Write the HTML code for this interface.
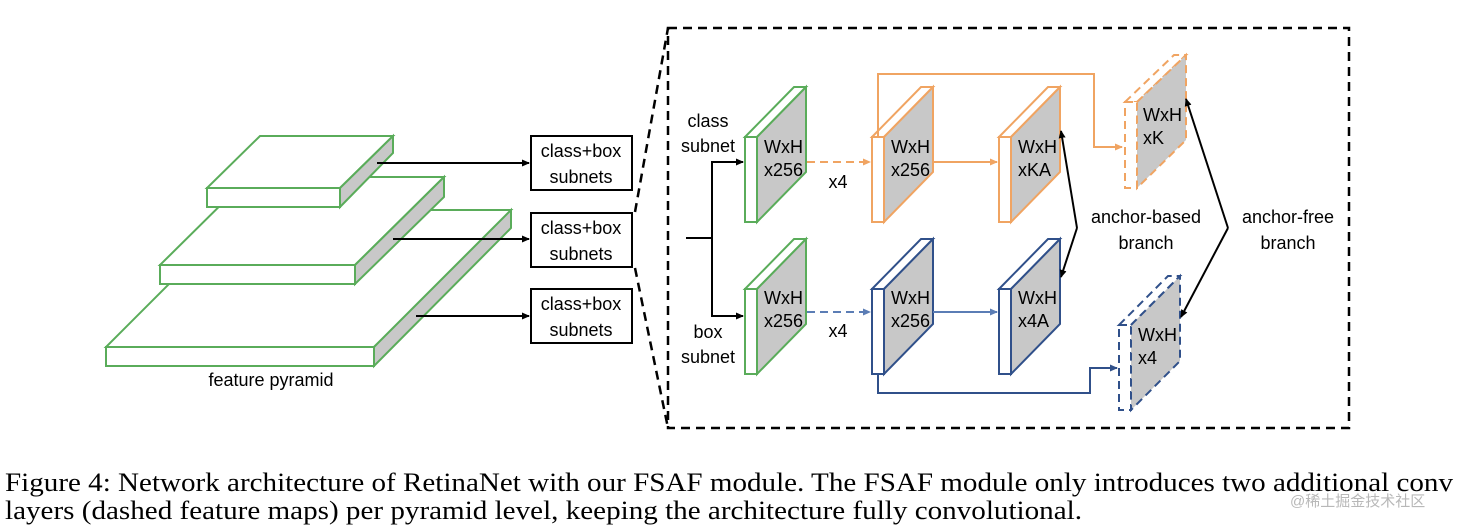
<!DOCTYPE html>
<html><head><meta charset="utf-8"><style>
html,body{margin:0;padding:0;background:#fff;}
svg{display:block;}
.t{font-family:"Liberation Sans",sans-serif;font-size:18px;fill:#000;}
.c{font-family:"Liberation Serif",serif;font-size:26px;fill:#000;}
</style></head><body>
<svg width="1460" height="528" viewBox="0 0 1460 528" xmlns="http://www.w3.org/2000/svg">
<defs>
<marker id="ab" markerWidth="8" markerHeight="8" refX="7" refY="4" orient="auto" markerUnits="userSpaceOnUse"><path d="M0,0.5 L8,4 L0,7.5 z" fill="#000"/></marker>
<marker id="ao" markerWidth="8" markerHeight="8" refX="7" refY="4" orient="auto" markerUnits="userSpaceOnUse"><path d="M0,0.5 L8,4 L0,7.5 z" fill="#f0a462"/></marker>
<marker id="abl" markerWidth="8" markerHeight="8" refX="7" refY="4" orient="auto" markerUnits="userSpaceOnUse"><path d="M0,0.5 L8,4 L0,7.5 z" fill="#5b7db5"/></marker>
<marker id="abd" markerWidth="8" markerHeight="8" refX="7" refY="4" orient="auto" markerUnits="userSpaceOnUse"><path d="M0,0.5 L8,4 L0,7.5 z" fill="#30508a"/></marker>
</defs>

<g stroke="#5aac5a" stroke-width="2" stroke-linejoin="miter">
<polygon points="243,210 511,210 374,347 106,347" fill="#fff"/>
<rect x="106" y="347" width="268" height="19" fill="#fff"/>
<polygon points="374,347 511,210 511,228 374,366" fill="#c8c8c8"/>
<polygon points="249,177 444,177 355,265 160,265" fill="#fff"/>
<rect x="160" y="265" width="195" height="19" fill="#fff"/>
<polygon points="355,265 444,177 444,197 355,284" fill="#c8c8c8"/>
<polygon points="260,136 393,136 340,188 207,188" fill="#fff"/>
<rect x="207" y="188" width="133" height="19" fill="#fff"/>
<polygon points="340,188 393,136 393,153 340,207" fill="#c8c8c8"/>
</g>
<text class="t" x="271" y="386" text-anchor="middle">feature pyramid</text>

<g stroke="#000" stroke-width="2" fill="none">
<line x1="377" y1="163" x2="529" y2="163" marker-end="url(#ab)"/>
<line x1="393" y1="239" x2="529" y2="239" marker-end="url(#ab)"/>
<line x1="416" y1="316" x2="529" y2="316" marker-end="url(#ab)"/>
<rect x="531" y="136" width="101" height="54" fill="#fff"/>
<rect x="531" y="213" width="101" height="54" fill="#fff"/>
<rect x="531" y="289" width="101" height="54" fill="#fff"/>
</g>
<g class="t" text-anchor="middle">
<text x="581" y="157">class+box</text><text x="581" y="183">subnets</text>
<text x="581" y="234">class+box</text><text x="581" y="260">subnets</text>
<text x="581" y="310">class+box</text><text x="581" y="336">subnets</text>
</g>

<g stroke="#000" stroke-width="2.5" fill="none" stroke-dasharray="9,6">
<rect x="668" y="28" width="681" height="400"/>
<line x1="635" y1="212" x2="668" y2="28"/>
<line x1="635" y1="268" x2="668" y2="428"/>
</g>

<g stroke="#000" stroke-width="2" fill="none">
<line x1="686" y1="238" x2="712" y2="238"/>
<polyline points="743,162 712,162 712,316 743,316"/>
<line x1="712" y1="162" x2="743" y2="162" marker-end="url(#ab)"/>
<line x1="712" y1="316" x2="743" y2="316" marker-end="url(#ab)"/>
</g>
<g class="t" text-anchor="middle">
<text x="708" y="127">class</text><text x="708" y="152">subnet</text>
<text x="708" y="338">box</text><text x="708" y="363">subnet</text>
<text x="838" y="188">x4</text><text x="838" y="337">x4</text>
</g>

<g stroke-width="2" stroke-linejoin="miter">
<g stroke="#5aac5a">
<polygon points="745,137 794,87 806,87 757,137" fill="#fff"/><rect x="745" y="137" width="12" height="85" fill="#fff"/><polygon points="757,137 806,87 806,172 757,222" fill="#c8c8c8"/>
<polygon points="745,289 794,239 806,239 757,289" fill="#fff"/><rect x="745" y="289" width="12" height="85" fill="#fff"/><polygon points="757,289 806,239 806,324 757,374" fill="#c8c8c8"/>
</g>
<g stroke="#f0a462">
<polygon points="872,137 921,87 933,87 884,137" fill="#fff"/><rect x="872" y="137" width="12" height="85" fill="#fff"/><polygon points="884,137 933,87 933,172 884,222" fill="#c8c8c8"/>
<polygon points="999,137 1048,87 1060,87 1011,137" fill="#fff"/><rect x="999" y="137" width="12" height="85" fill="#fff"/><polygon points="1011,137 1060,87 1060,172 1011,222" fill="#c8c8c8"/>
</g>
<g stroke="#30508a">
<polygon points="872,289 921,239 933,239 884,289" fill="#fff"/><rect x="872" y="289" width="12" height="85" fill="#fff"/><polygon points="884,289 933,239 933,324 884,374" fill="#c8c8c8"/>
<polygon points="999,289 1048,239 1060,239 1011,289" fill="#fff"/><rect x="999" y="289" width="12" height="85" fill="#fff"/><polygon points="1011,289 1060,239 1060,324 1011,374" fill="#c8c8c8"/>
</g>
<g stroke="#f0a462" stroke-dasharray="8,5">
<polygon points="1125,102 1174,55 1186,55 1137,102" fill="#fff"/><rect x="1125" y="102" width="12" height="86" fill="#fff"/><polygon points="1137,102 1186,55 1186,140 1137,188" fill="#c8c8c8"/>
</g>
<g stroke="#30508a" stroke-dasharray="8,5">
<polygon points="1119,325 1168,276 1180,276 1131,325" fill="#fff"/><rect x="1119" y="325" width="12" height="85" fill="#fff"/><polygon points="1131,325 1180,276 1180,361 1131,410" fill="#c8c8c8"/>
</g>
</g>
<g class="t">
<text x="764" y="153">WxH</text><text x="764" y="176">x256</text>
<text x="764" y="304">WxH</text><text x="764" y="327">x256</text>
<text x="891" y="153">WxH</text><text x="891" y="176">x256</text>
<text x="891" y="304">WxH</text><text x="891" y="327">x256</text>
<text x="1018" y="153">WxH</text><text x="1018" y="176">xKA</text>
<text x="1018" y="304">WxH</text><text x="1018" y="327">x4A</text>
<text x="1143" y="121">WxH</text><text x="1143" y="144">xK</text>
<text x="1138" y="341">WxH</text><text x="1138" y="364">x4</text>
</g>

<g fill="none" stroke-width="2">
<line x1="807" y1="162" x2="870" y2="162" stroke="#f0a462" stroke-dasharray="8,5" marker-end="url(#ao)"/>
<line x1="933" y1="162" x2="997" y2="162" stroke="#f0a462" marker-end="url(#ao)"/>
<polyline points="878,137 878,74 1094,74 1094,147 1122,147" stroke="#f0a462" marker-end="url(#ao)"/>
<line x1="807" y1="312" x2="870" y2="312" stroke="#5b7db5" stroke-dasharray="8,5" marker-end="url(#abl)"/>
<line x1="933" y1="312" x2="997" y2="312" stroke="#5b7db5" marker-end="url(#abl)"/>
<polyline points="878,374 878,393 1090,393 1090,368 1117,368" stroke="#30508a" marker-end="url(#abd)"/>
<g stroke="#000">
<polyline points="1077,228 1061,131" marker-end="url(#ab)"/>
<polyline points="1077,228 1061,277" marker-end="url(#ab)"/>
<polyline points="1228,228 1186,99" marker-end="url(#ab)"/>
<polyline points="1228,228 1181,317" marker-end="url(#ab)"/>
</g>
</g>
<g class="t" text-anchor="middle">
<text x="1146" y="223">anchor-based</text><text x="1146" y="249">branch</text>
<text x="1288" y="223">anchor-free</text><text x="1288" y="249">branch</text>
</g>

<text class="c" x="5" y="491" textLength="1448" lengthAdjust="spacingAndGlyphs">Figure 4: Network architecture of RetinaNet with our FSAF module. The FSAF module only introduces two additional conv</text>
<text class="c" x="5" y="519" textLength="1077" lengthAdjust="spacingAndGlyphs">layers (dashed feature maps) per pyramid level, keeping the architecture fully convolutional.</text>
<text x="1290" y="506" font-family="'Liberation Sans','Noto Sans CJK SC',sans-serif" font-size="15" fill="#b8b8b8">@稀土掘金技术社区</text>
</svg>
</body></html>
